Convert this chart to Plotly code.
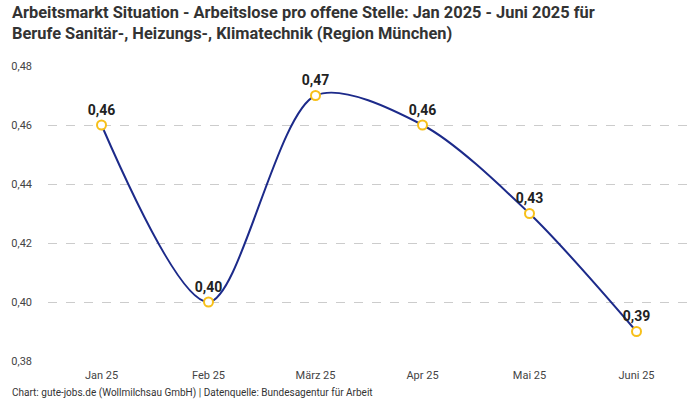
import plotly.graph_objects as go

categories = ["Jan 25", "Feb 25", "März 25", "Apr 25", "Mai 25", "Juni 25"]
values = [0.46, 0.40, 0.47, 0.46, 0.43, 0.39]
labels = ["0,46", "0,40", "0,47", "0,46", "0,43", "0,39"]
y_ticks = [0.38, 0.40, 0.42, 0.44, 0.46, 0.48]
y_tick_labels = ["0,38", "0,40", "0,42", "0,44", "0,46", "0,48"]

title_lines = ["Arbeitsmarkt Situation - Arbeitslose pro offene Stelle: Jan 2025 - Juni 2025 für",
               "Berufe Sanitär-, Heizungs-, Klimatechnik (Region München)"]
footer = "Chart: gute-jobs.de (Wollmilchsau GmbH) | Datenquelle: Bundesagentur für Arbeit"

L, R, T, B = 48, 10, 66, 39
W, H = 700, 400
PW, PH = W - L - R, H - T - B

def px_x(p):
    return (p - L) / PW

def px_y(p):
    return (H - B - p) / PH

fig = go.Figure()
fig.add_trace(go.Scatter(
    x=categories, y=values,
    mode="lines+markers+text",
    line=dict(color="#1c2a8a", width=2, shape="spline", smoothing=0.85),
    marker=dict(size=9, color="white", line=dict(color="#f7c01a", width=2)),
    text=labels, textposition="top center",
    textfont=dict(family="Roboto", size=14, color="#222222", weight="bold"),
    cliponaxis=False,
    hoverinfo="skip",
))

annotations = [
    dict(text="<b>" + "<br>".join(title_lines) + "</b>", x=px_x(10), xref="paper",
         xanchor="left", align="left", y=px_y(1), yref="paper", yanchor="top",
         showarrow=False, font=dict(family="Roboto", size=16.4, color="#333333")),
    dict(text=footer, x=px_x(10), xref="paper", xanchor="left",
         y=px_y(393), yref="paper", yanchor="middle", showarrow=False,
         font=dict(family="Roboto", size=10, color="#333333")),
]

fig.update_layout(
    width=W, height=H,
    paper_bgcolor="white", plot_bgcolor="white",
    margin=dict(l=L, r=R, t=T, b=B),
    showlegend=False,
    xaxis=dict(type="category", showgrid=False, zeroline=False, showline=False,
               ticks="", tickfont=dict(family="Roboto", size=11, color="#444444"),
               range=[-0.5, 5.5], ticklabelstandoff=6),
    yaxis=dict(range=[0.38, 0.48], tickvals=y_ticks, ticktext=y_tick_labels,
               showgrid=True, gridcolor="#cccccc", griddash="dash", gridwidth=1,
               zeroline=False, showline=False, ticks="", ticklabelstandoff=15,
               tickfont=dict(family="Roboto", size=11, color="#444444")),
    annotations=annotations,
)

fig.write_html("out.html", config={"displayModeBar": False},
               post_script="document.body.style.margin='0';")
